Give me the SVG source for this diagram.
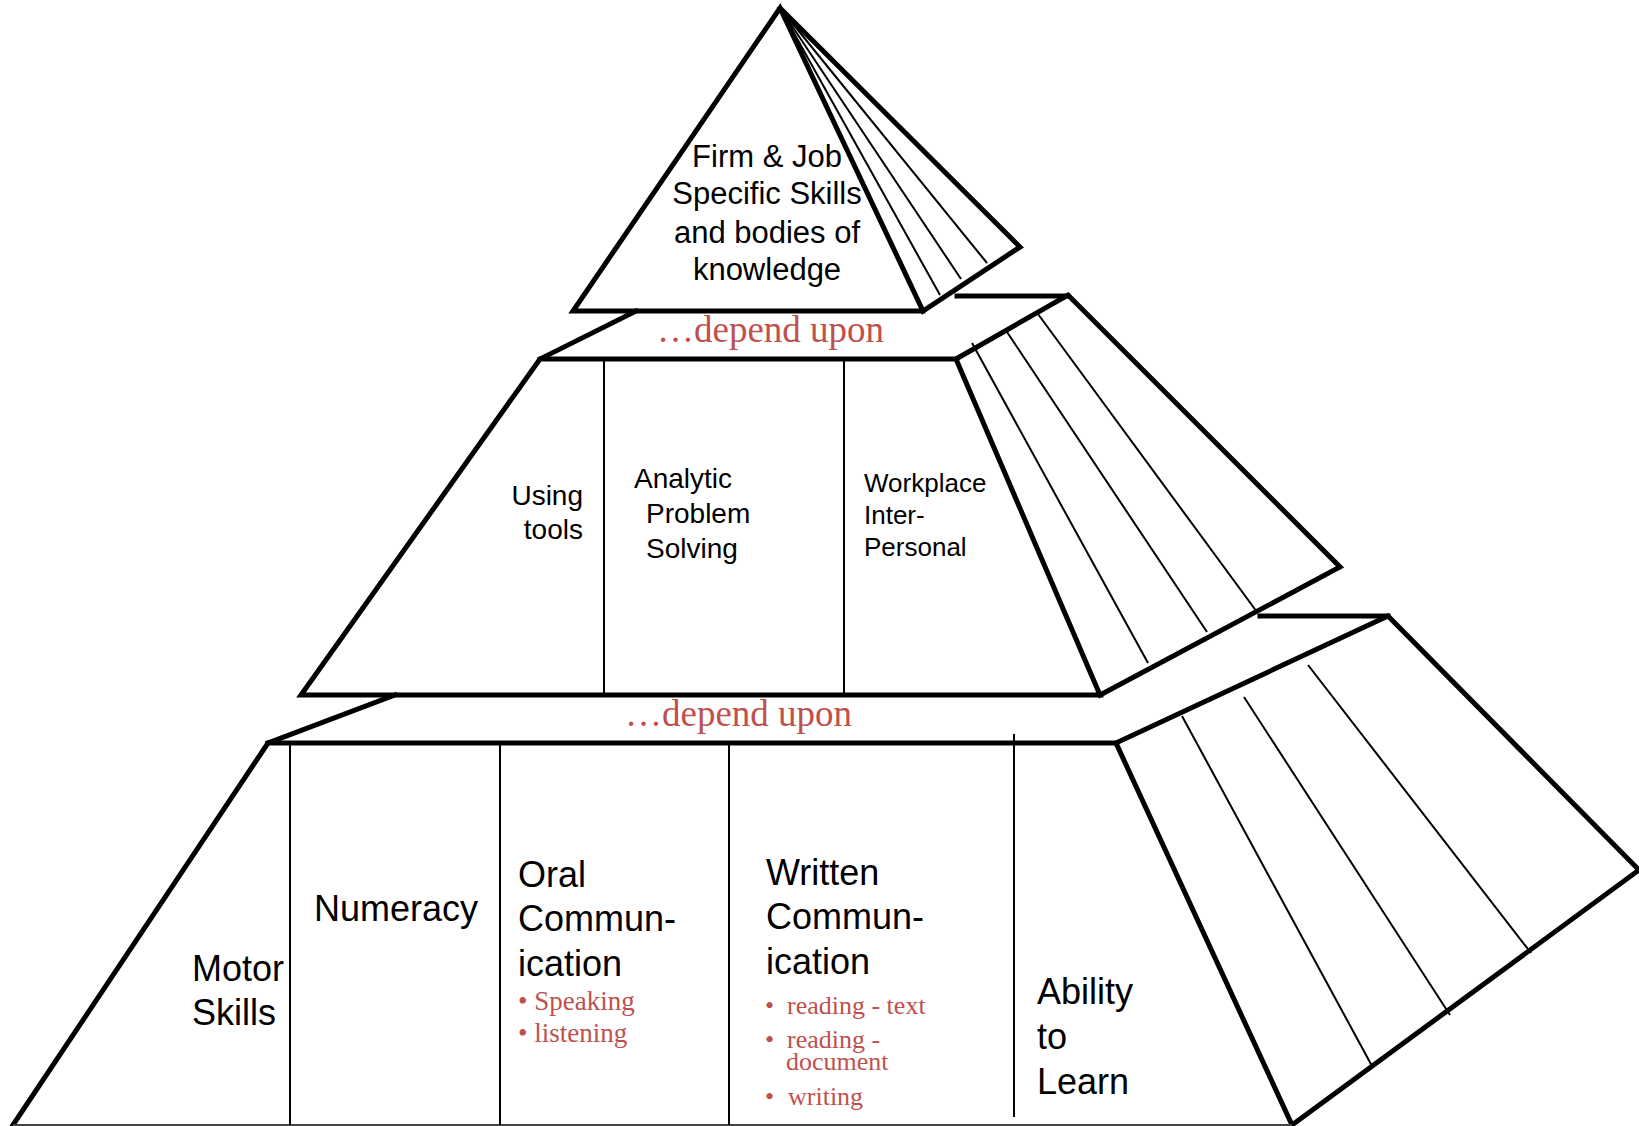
<svg xmlns="http://www.w3.org/2000/svg" width="1639" height="1126" viewBox="0 0 1639 1126">
<style>
.thick{fill:none;stroke:#000;stroke-width:5;stroke-linejoin:miter;stroke-linecap:square}
.thin{fill:none;stroke:#000;stroke-width:2}
.lbl{font-family:"Liberation Sans",Arial,sans-serif;fill:#000}
.red{font-family:"Liberation Serif","Times New Roman",serif;fill:#C0504D}
</style>
<rect width="1639" height="1126" fill="#fff"/>
<g id="connectors">
<line class="thick" x1="636" y1="311" x2="540" y2="359"/>
<line class="thick" x1="957" y1="296" x2="1068" y2="296"/>
<line class="thick" x1="395" y1="695" x2="268" y2="743"/>
<line class="thick" x1="1260" y1="616" x2="1388" y2="616"/>
</g>
<g id="top-level">
<polyline class="thick" points="923,311 573,311 780,8 923,311 1020,247 780,8"/>
<line class="thin" x1="780" y1="8" x2="940" y2="295"/>
<line class="thin" x1="780" y1="8" x2="961" y2="279"/>
<line class="thin" x1="780" y1="8" x2="987" y2="263"/>
<text class="lbl" font-size="31" text-anchor="middle"><tspan x="767" y="167">Firm &amp; Job</tspan><tspan x="767" y="204">Specific Skills</tspan><tspan x="767" y="243">and bodies of</tspan><tspan x="767" y="280">knowledge</tspan></text>
</g>
<g id="label-depend-1"><text class="red" x="657" y="342" font-size="37">…depend upon</text></g>
<g id="middle-level">
<polygon class="thick" points="540,359 956,359 1100,695 301,695"/>
<polyline class="thick" points="956,359 1068,295 1340,567 1100,695"/>
<line class="thin" x1="604" y1="359" x2="604" y2="695"/>
<line class="thin" x1="844" y1="359" x2="844" y2="695"/>
<line class="thin" x1="972" y1="343" x2="1148" y2="663"/>
<line class="thin" x1="1007" y1="332" x2="1207" y2="632"/>
<line class="thin" x1="1038" y1="314" x2="1257" y2="612"/>
</g>
<g id="node-using-tools"><text class="lbl" font-size="28" text-anchor="end"><tspan x="583" y="505">Using</tspan><tspan x="583" y="539">tools</tspan></text></g>
<g id="node-analytic"><text class="lbl" font-size="28"><tspan x="634" y="488">Analytic</tspan><tspan x="646" y="523">Problem</tspan><tspan x="646" y="558">Solving</tspan></text></g>
<g id="node-workplace"><text class="lbl" font-size="26"><tspan x="864" y="492">Workplace</tspan><tspan x="864" y="524">Inter-</tspan><tspan x="864" y="556">Personal</tspan></text></g>
<g id="label-depend-2"><text class="red" x="625" y="726" font-size="37">…depend upon</text></g>
<g id="bottom-level">
<polyline class="thick" points="13,1125 268,743 1116,743 1292,1125"/>
<polyline class="thick" points="1116,743 1388,616 1639,870 1292,1125"/>
<line x1="13" y1="1125" x2="1292" y2="1125" stroke="#444" stroke-width="2"/>
<line class="thin" x1="290" y1="743" x2="290" y2="1125"/>
<line class="thin" x1="500" y1="743" x2="500" y2="1125"/>
<line class="thin" x1="729" y1="743" x2="729" y2="1125"/>
<line class="thin" x1="1014" y1="734" x2="1014" y2="1117"/>
<line class="thin" x1="1182" y1="716" x2="1372" y2="1066"/>
<line class="thin" x1="1244" y1="697" x2="1450" y2="1015"/>
<line class="thin" x1="1308" y1="665" x2="1531" y2="953"/>
</g>
<g id="node-motor"><text class="lbl" font-size="36"><tspan x="192" y="981">Motor</tspan><tspan x="192" y="1025">Skills</tspan></text></g>
<g id="node-numeracy"><text class="lbl" font-size="36" x="314" y="921">Numeracy</text></g>
<g id="node-oral">
<text class="lbl" font-size="36"><tspan x="518" y="887">Oral</tspan><tspan x="518" y="931">Commun-</tspan><tspan x="518" y="976">ication</tspan></text>
<text class="red" font-size="27"><tspan x="518" y="1010">• Speaking</tspan><tspan x="518" y="1042">• listening</tspan></text>
</g>
<g id="node-written">
<text class="lbl" font-size="36"><tspan x="766" y="885">Written</tspan><tspan x="766" y="929">Commun-</tspan><tspan x="766" y="974">ication</tspan></text>
<text class="red" font-size="26"><tspan x="765" y="1014">•</tspan><tspan x="787" y="1014">reading - text</tspan><tspan x="765" y="1048">•</tspan><tspan x="787" y="1048">reading -</tspan><tspan x="786" y="1070">document</tspan><tspan x="765" y="1105">•</tspan><tspan x="788" y="1105">writing</tspan></text>
</g>
<g id="node-ability"><text class="lbl" font-size="36"><tspan x="1037" y="1004">Ability</tspan><tspan x="1037" y="1049">to</tspan><tspan x="1037" y="1094">Learn</tspan></text></g>
</svg>
